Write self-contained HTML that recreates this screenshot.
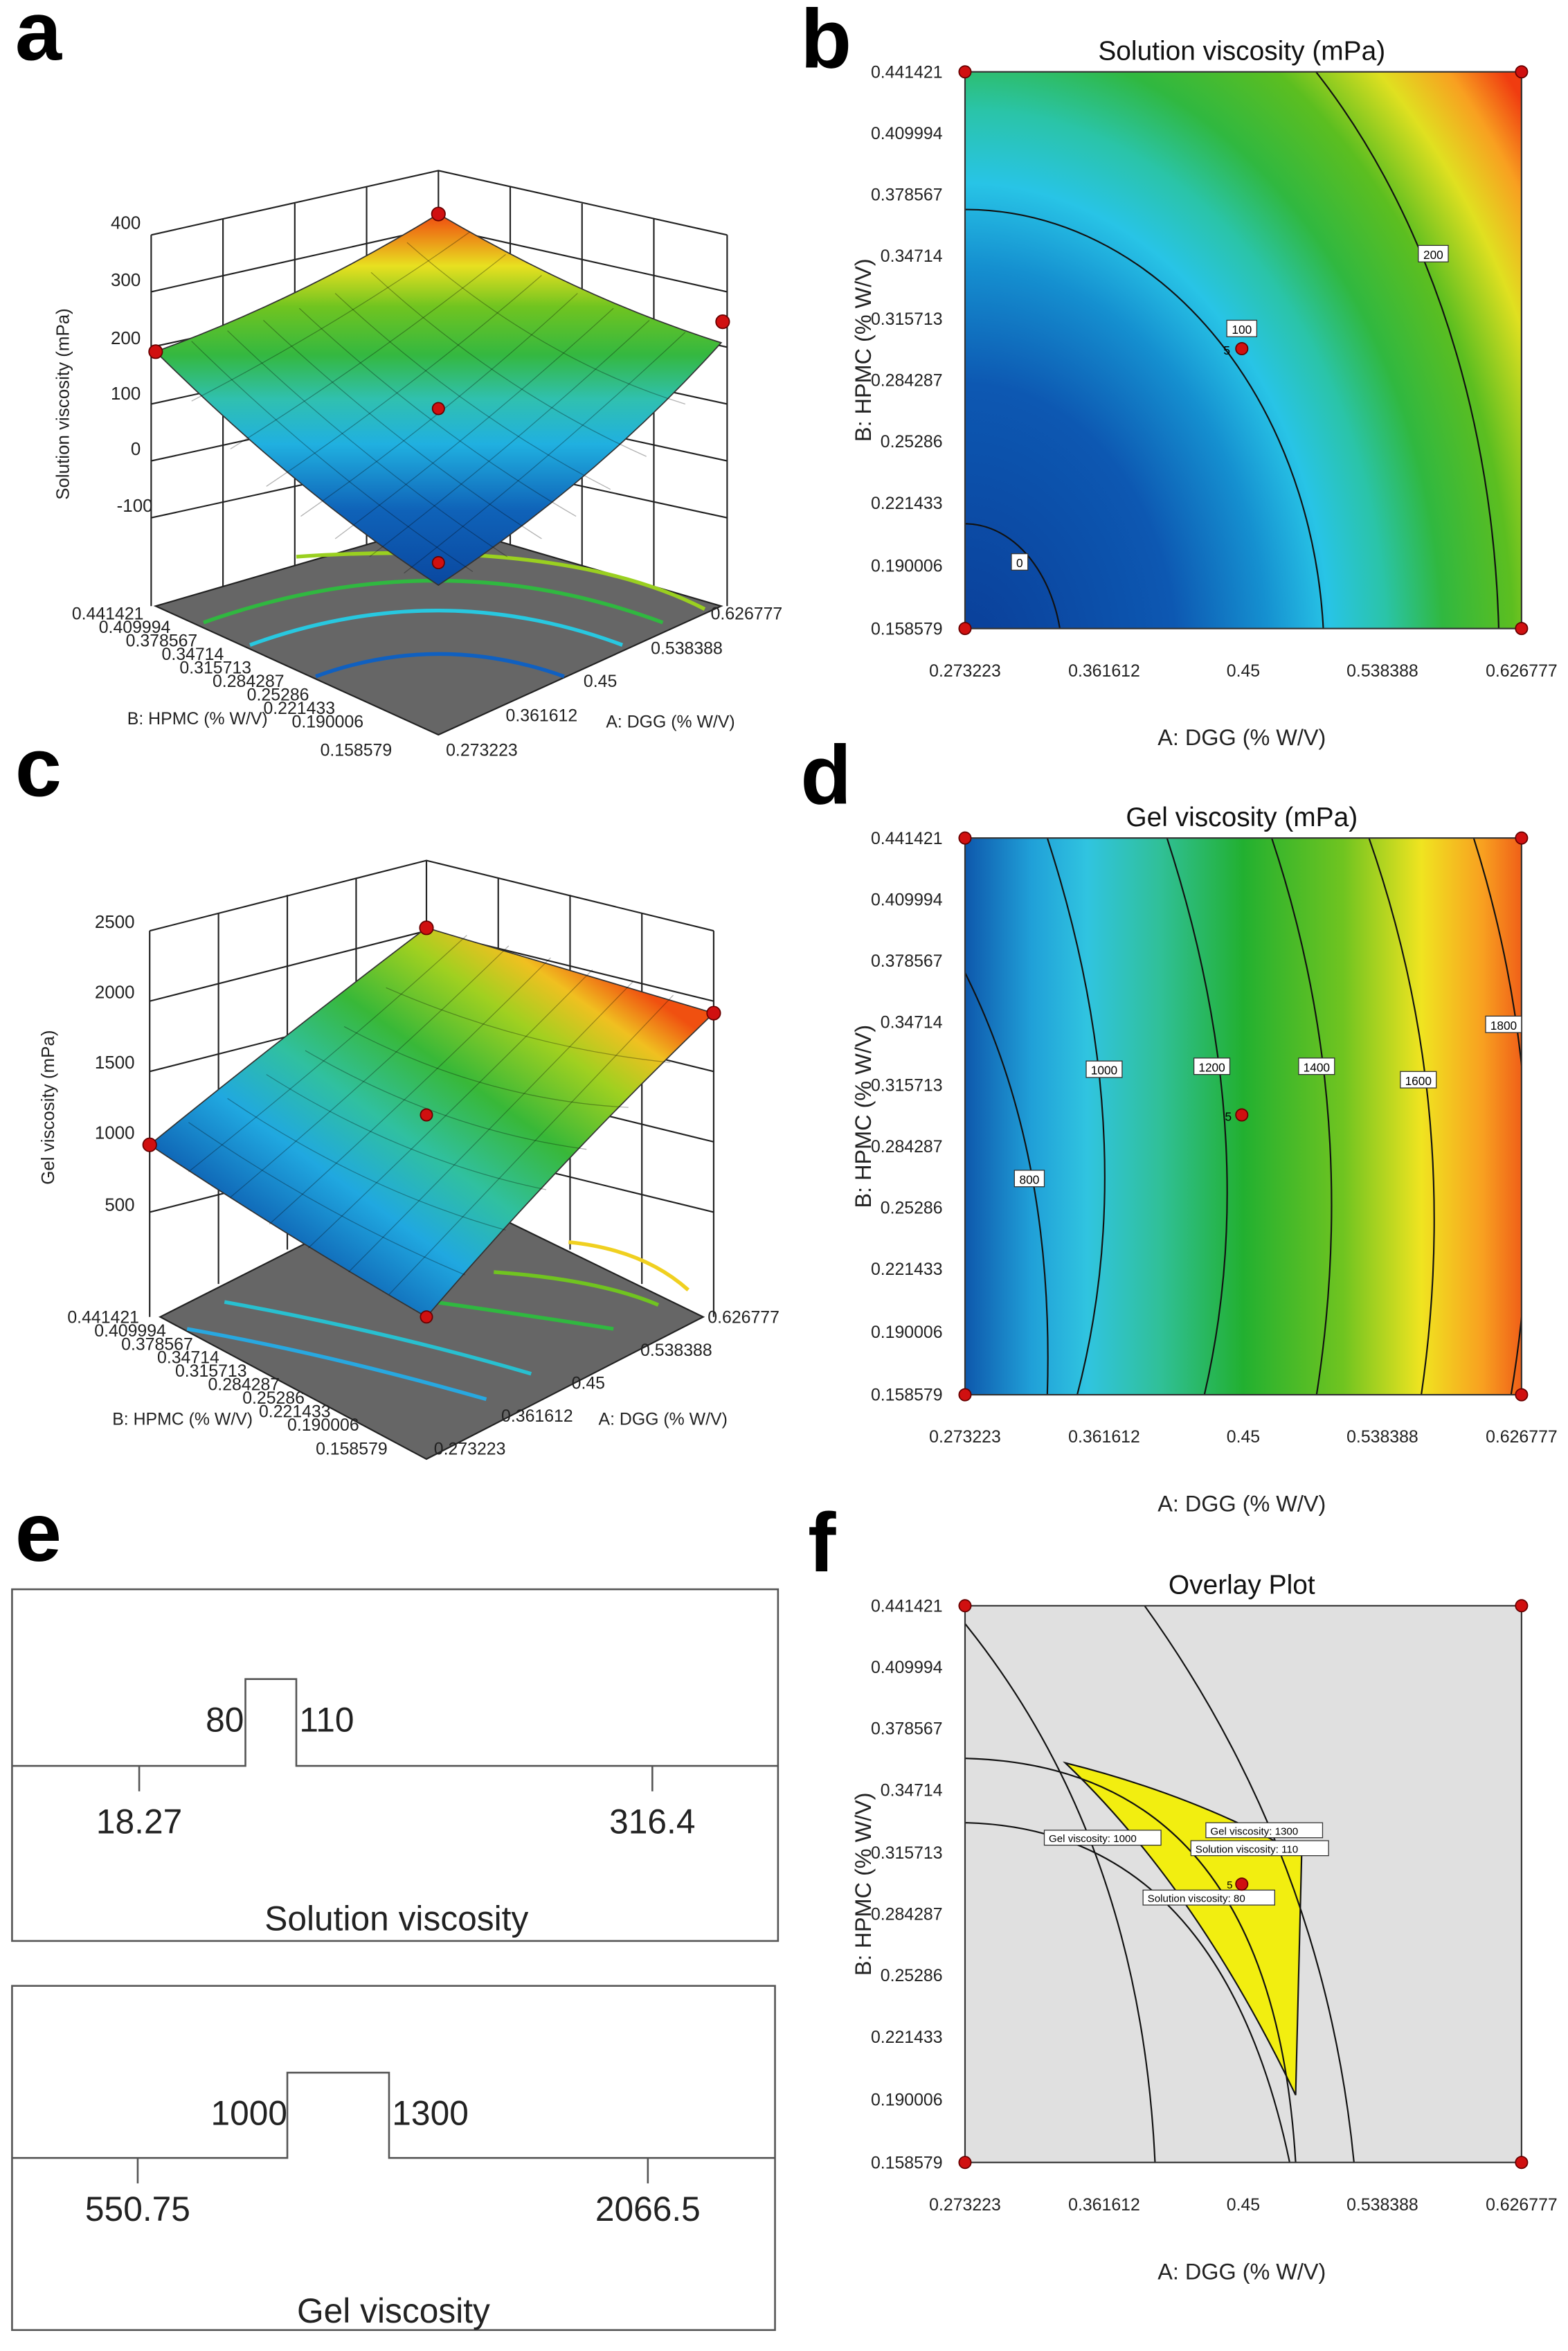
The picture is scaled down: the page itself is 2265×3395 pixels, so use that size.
<!DOCTYPE html>
<html><head><meta charset="utf-8"><style>
html,body{margin:0;padding:0;background:#fff}
svg{display:block}
text{font-family:"Liberation Sans",sans-serif}
</style></head><body>
<svg width="2265" height="3395" viewBox="0 0 1048 1571" xmlns="http://www.w3.org/2000/svg">
<defs>
<linearGradient id="ga" gradientUnits="userSpaceOnUse" x1="293" y1="391" x2="293" y2="143">
<stop offset="0" stop-color="#0a48a0"/><stop offset="0.2" stop-color="#0f62b8"/><stop offset="0.38" stop-color="#20b0e0"/><stop offset="0.5" stop-color="#30c0b0"/><stop offset="0.62" stop-color="#34b840"/><stop offset="0.75" stop-color="#70c420"/><stop offset="0.86" stop-color="#e8e020"/><stop offset="1" stop-color="#f04810"/></linearGradient>
<linearGradient id="gc" gradientUnits="userSpaceOnUse" x1="200" y1="860" x2="370" y2="620">
<stop offset="0" stop-color="#0a50a8"/><stop offset="0.25" stop-color="#20a8e0"/><stop offset="0.42" stop-color="#30c0a0"/><stop offset="0.6" stop-color="#38b838"/><stop offset="0.78" stop-color="#a0d020"/><stop offset="0.9" stop-color="#f0c020"/><stop offset="1" stop-color="#f05010"/></linearGradient>
<radialGradient id="gb" gradientUnits="userSpaceOnUse" cx="645" cy="440" r="470" gradientTransform="translate(645 440) scale(1 1.3) translate(-645 -440)">
<stop offset="0" stop-color="#0a3e98"/><stop offset="0.3" stop-color="#0d58b2"/><stop offset="0.43" stop-color="#1590d0"/><stop offset="0.52" stop-color="#28c4e6"/><stop offset="0.6" stop-color="#2ac4a8"/><stop offset="0.68" stop-color="#30b840"/><stop offset="0.78" stop-color="#5cbe20"/><stop offset="0.87" stop-color="#e0e020"/><stop offset="0.94" stop-color="#f8a020"/><stop offset="1" stop-color="#f03c10"/></radialGradient>
<linearGradient id="gd" gradientUnits="userSpaceOnUse" x1="645" y1="0" x2="1017" y2="0">
<stop offset="0" stop-color="#0e58ac"/><stop offset="0.12" stop-color="#20a0d8"/><stop offset="0.22" stop-color="#30c4e0"/><stop offset="0.35" stop-color="#30c098"/><stop offset="0.5" stop-color="#22b030"/><stop offset="0.68" stop-color="#70c420"/><stop offset="0.82" stop-color="#f0e420"/><stop offset="0.93" stop-color="#f8a020"/><stop offset="1" stop-color="#f06018"/></linearGradient>
<clipPath id="cb"><rect x="645" y="48" width="372" height="372"/></clipPath>
<clipPath id="cd"><rect x="645" y="560" width="372" height="372"/></clipPath>
<clipPath id="cf"><rect x="645" y="1073" width="372" height="372"/></clipPath>
</defs>

<g font-weight="bold" font-size="56" fill="#000">
<text x="10" y="40">a</text><text x="535" y="45">b</text>
<text x="10" y="532">c</text><text x="535" y="537">d</text>
<text x="10" y="1043">e</text><text x="540" y="1050">f</text>
</g>

<!-- PANEL A -->
<g stroke="#222" stroke-width="1" fill="none">
<polyline points="101,157 293,114 486,157"/>
<line x1="101" y1="157" x2="101" y2="405"/><line x1="293" y1="114" x2="293" y2="356"/><line x1="486" y1="157" x2="486" y2="405"/>
<polyline points="101,195 293,152 486,195"/><polyline points="101,232 293,190 486,232"/><polyline points="101,270 293,228 486,270"/><polyline points="101,308 293,266 486,308"/><polyline points="101,346 293,304 486,346"/>
<line x1="149" y1="146" x2="149" y2="395"/><line x1="197" y1="136" x2="197" y2="380"/><line x1="245" y1="125" x2="245" y2="368"/>
<line x1="341" y1="125" x2="341" y2="368"/><line x1="389" y1="136" x2="389" y2="380"/><line x1="437" y1="146" x2="437" y2="395"/>
</g>
<polygon points="104,405 293,491 482,405 293,350" fill="#666" stroke="#222"/>
<g fill="none" stroke-width="2.5">
<path d="M198,372 Q380,360 471,407" stroke="#9ad020"/>
<path d="M136,416 Q293,360 443,416" stroke="#30b840"/>
<path d="M167,431 Q293,385 416,431" stroke="#28c8e0"/>
<path d="M211,452 Q293,422 377,452" stroke="#1060c0"/>
</g>
<path d="M104,235 Q200,330 293,391 Q400,320 482,229 Q390,200 293,143 Q200,200 104,235 Z" fill="url(#ga)" stroke="#333" stroke-width="0.8"/>
<g stroke="#000" stroke-opacity="0.3" stroke-width="0.6" fill="none">
<path d="M128,228 Q222,320 316,382"/><path d="M152,221 Q245,310 339,372"/><path d="M176,214 Q268,300 362,360"/><path d="M200,206 Q290,290 385,345"/><path d="M224,196 Q312,278 408,327"/><path d="M248,182 Q335,262 432,305"/><path d="M272,162 Q360,240 458,270"/>
<path d="M458,222 Q364,310 270,383"/><path d="M434,214 Q341,300 247,372"/><path d="M410,206 Q318,290 224,360"/><path d="M386,196 Q295,280 201,345"/><path d="M362,184 Q272,262 178,325"/><path d="M338,170 Q250,240 154,300"/><path d="M314,155 Q230,215 128,268"/>
</g>
<g fill="#d01010" stroke="#600" stroke-width="0.8">
<circle cx="293" cy="143" r="4.5"/><circle cx="104" cy="235" r="4.5"/><circle cx="483" cy="215" r="4.5"/><circle cx="293" cy="273" r="4"/><circle cx="293" cy="376" r="4"/>
</g>
<g font-size="12" fill="#222" text-anchor="end">
<text x="94" y="153">400</text><text x="94" y="191">300</text><text x="94" y="230">200</text><text x="94" y="267">100</text><text x="94" y="304">0</text><text x="102" y="342">-100</text>
</g>
<text transform="translate(46,270) rotate(-90)" font-size="12" text-anchor="middle" fill="#222">Solution viscosity (mPa)</text>
<g font-size="11.5" fill="#222">
<text x="48" y="414">0.441421</text><text x="66" y="423">0.409994</text><text x="84" y="432">0.378567</text><text x="108" y="441">0.34714</text><text x="120" y="450">0.315713</text><text x="142" y="459">0.284287</text><text x="165" y="468">0.25286</text><text x="176" y="477">0.221433</text><text x="195" y="486">0.190006</text><text x="214" y="505">0.158579</text>
<text x="85" y="484">B: HPMC (% W/V)</text>
<text x="298" y="505">0.273223</text><text x="338" y="482">0.361612</text><text x="390" y="459">0.45</text><text x="435" y="437">0.538388</text><text x="475" y="414">0.626777</text>
<text x="405" y="486">A: DGG (% W/V)</text>
</g>

<!-- PANEL C -->
<g stroke="#222" stroke-width="1" fill="none">
<polyline points="100,622 285,575 477,622"/>
<line x1="100" y1="622" x2="100" y2="880"/><line x1="285" y1="575" x2="285" y2="790"/><line x1="477" y1="622" x2="477" y2="880"/>
<polyline points="100,669 285,622 477,669"/><polyline points="100,716 285,669 477,716"/><polyline points="100,763 285,716 477,763"/><polyline points="100,810 285,763 477,810"/>
<line x1="146" y1="610" x2="146" y2="858"/><line x1="192" y1="598" x2="192" y2="835"/><line x1="238" y1="587" x2="238" y2="812"/>
<line x1="333" y1="587" x2="333" y2="812"/><line x1="381" y1="598" x2="381" y2="835"/><line x1="429" y1="610" x2="429" y2="858"/>
</g>
<polygon points="107,880 285,975 470,880 285,790" fill="#666" stroke="#222"/>
<g fill="none" stroke-width="2.5">
<path d="M125,888 Q220,905 325,935" stroke="#28a8e0"/>
<path d="M150,870 Q260,890 355,918" stroke="#28c0d0"/>
<path d="M290,870 Q360,880 410,888" stroke="#30b840"/>
<path d="M330,850 Q400,855 440,872" stroke="#70c420"/>
<path d="M380,830 Q430,835 460,862" stroke="#f0d020"/>
</g>
<path d="M100,765 Q190,825 285,880 Q375,775 477,677 Q380,648 285,620 Q190,692 100,765 Z" fill="url(#gc)" stroke="#333" stroke-width="0.8"/>
<g stroke="#000" stroke-opacity="0.3" stroke-width="0.6" fill="none">
<path d="M126,750 Q216,812 311,852"/><path d="M152,734 Q242,795 338,822"/><path d="M178,718 Q268,775 365,795"/><path d="M204,702 Q295,755 392,768"/><path d="M230,686 Q322,735 420,740"/><path d="M258,660 Q350,700 448,710"/>
<path d="M450,665 Q355,765 260,865"/><path d="M423,656 Q330,752 233,850"/><path d="M396,648 Q305,740 206,834"/><path d="M368,640 Q280,728 180,818"/><path d="M340,632 Q255,715 154,800"/><path d="M312,625 Q230,700 126,783"/>
</g>
<g fill="#d01010" stroke="#600" stroke-width="0.8">
<circle cx="285" cy="620" r="4.5"/><circle cx="100" cy="765" r="4.5"/><circle cx="477" cy="677" r="4.5"/><circle cx="285" cy="745" r="4"/><circle cx="285" cy="880" r="4"/>
</g>
<g font-size="12" fill="#222" text-anchor="end">
<text x="90" y="620">2500</text><text x="90" y="667">2000</text><text x="90" y="714">1500</text><text x="90" y="761">1000</text><text x="90" y="809">500</text>
</g>
<text transform="translate(36,740) rotate(-90)" font-size="12" text-anchor="middle" fill="#222">Gel viscosity (mPa)</text>
<g font-size="11.5" fill="#222">
<text x="45" y="884">0.441421</text><text x="63" y="893">0.409994</text><text x="81" y="902">0.378567</text><text x="105" y="911">0.34714</text><text x="117" y="920">0.315713</text><text x="139" y="929">0.284287</text><text x="162" y="938">0.25286</text><text x="173" y="947">0.221433</text><text x="192" y="956">0.190006</text><text x="211" y="972">0.158579</text>
<text x="75" y="952">B: HPMC (% W/V)</text>
<text x="290" y="972">0.273223</text><text x="335" y="950">0.361612</text><text x="382" y="928">0.45</text><text x="428" y="906">0.538388</text><text x="473" y="884">0.626777</text>
<text x="400" y="952">A: DGG (% W/V)</text>
</g>

<!-- PANEL B -->
<rect x="645" y="48" width="372" height="372" fill="url(#gb)"/>
<g clip-path="url(#cb)" fill="none" stroke="#111" stroke-width="1">
<ellipse cx="645" cy="440" rx="65" ry="90"/>
<ellipse cx="645" cy="440" rx="240" ry="300"/>
<ellipse cx="645" cy="440" rx="357" ry="520"/>
</g>
<rect x="645" y="48" width="372" height="372" fill="none" stroke="#333"/>
<g font-size="8" fill="#000" text-anchor="middle">
<rect x="676" y="370" width="11" height="11" fill="#fff" stroke="#333" stroke-width="0.6"/><text x="681.5" y="379">0</text>
<rect x="820" y="214" width="20" height="11" fill="#fff" stroke="#333" stroke-width="0.6"/><text x="830" y="223">100</text>
<rect x="948" y="164" width="20" height="11" fill="#fff" stroke="#333" stroke-width="0.6"/><text x="958" y="173">200</text>
<text x="820" y="237">5</text>
</g>
<g fill="#d01010" stroke="#600" stroke-width="0.8">
<circle cx="830" cy="233" r="4"/><circle cx="645" cy="48" r="4"/><circle cx="1017" cy="48" r="4"/><circle cx="645" cy="420" r="4"/><circle cx="1017" cy="420" r="4"/>
</g>
<text x="830" y="40" font-size="18" text-anchor="middle" fill="#111">Solution viscosity (mPa)</text>
<g font-size="11.5" fill="#222" text-anchor="end">
<text x="630" y="52">0.441421</text><text x="630" y="93">0.409994</text><text x="630" y="134">0.378567</text><text x="630" y="175">0.34714</text><text x="630" y="217">0.315713</text><text x="630" y="258">0.284287</text><text x="630" y="299">0.25286</text><text x="630" y="340">0.221433</text><text x="630" y="382">0.190006</text><text x="630" y="424">0.158579</text>
</g>
<g font-size="11.5" fill="#222" text-anchor="middle">
<text x="645" y="452">0.273223</text><text x="738" y="452">0.361612</text><text x="831" y="452">0.45</text><text x="924" y="452">0.538388</text><text x="1017" y="452">0.626777</text>
</g>
<text x="830" y="498" font-size="15" text-anchor="middle" fill="#222">A: DGG (% W/V)</text>
<text transform="translate(582,234) rotate(-90)" font-size="15" text-anchor="middle" fill="#222">B: HPMC (% W/V)</text>

<!-- PANEL D -->
<rect x="645" y="560" width="372" height="372" fill="url(#gd)"/>
<g clip-path="url(#cd)" fill="none" stroke="#111" stroke-width="1">
<path d="M645,650 Q705,770 700,932"/>
<path d="M700,560 Q765,760 720,932"/>
<path d="M780,560 Q845,760 805,932"/>
<path d="M850,560 Q910,740 880,932"/>
<path d="M915,560 Q978,740 950,932"/>
<path d="M985,560 Q1042,740 1010,932"/>
</g>
<rect x="645" y="560" width="372" height="372" fill="none" stroke="#333"/>
<g font-size="8" fill="#000" text-anchor="middle">
<rect x="678" y="782" width="20" height="11" fill="#fff" stroke="#333" stroke-width="0.6"/><text x="688" y="791">800</text>
<rect x="726" y="709" width="24" height="11" fill="#fff" stroke="#333" stroke-width="0.6"/><text x="738" y="718">1000</text>
<rect x="798" y="707" width="24" height="11" fill="#fff" stroke="#333" stroke-width="0.6"/><text x="810" y="716">1200</text>
<rect x="868" y="707" width="24" height="11" fill="#fff" stroke="#333" stroke-width="0.6"/><text x="880" y="716">1400</text>
<rect x="936" y="716" width="24" height="11" fill="#fff" stroke="#333" stroke-width="0.6"/><text x="948" y="725">1600</text>
<rect x="993" y="679" width="24" height="11" fill="#fff" stroke="#333" stroke-width="0.6"/><text x="1005" y="688">1800</text>
<text x="821" y="749">5</text>
</g>
<g fill="#d01010" stroke="#600" stroke-width="0.8">
<circle cx="830" cy="745" r="4"/><circle cx="645" cy="560" r="4"/><circle cx="1017" cy="560" r="4"/><circle cx="645" cy="932" r="4"/><circle cx="1017" cy="932" r="4"/>
</g>
<text x="830" y="552" font-size="18" text-anchor="middle" fill="#111">Gel viscosity (mPa)</text>
<g font-size="11.5" fill="#222" text-anchor="end">
<text x="630" y="564">0.441421</text><text x="630" y="605">0.409994</text><text x="630" y="646">0.378567</text><text x="630" y="687">0.34714</text><text x="630" y="729">0.315713</text><text x="630" y="770">0.284287</text><text x="630" y="811">0.25286</text><text x="630" y="852">0.221433</text><text x="630" y="894">0.190006</text><text x="630" y="936">0.158579</text>
</g>
<g font-size="11.5" fill="#222" text-anchor="middle">
<text x="645" y="964">0.273223</text><text x="738" y="964">0.361612</text><text x="831" y="964">0.45</text><text x="924" y="964">0.538388</text><text x="1017" y="964">0.626777</text>
</g>
<text x="830" y="1010" font-size="15" text-anchor="middle" fill="#222">A: DGG (% W/V)</text>
<text transform="translate(582,746) rotate(-90)" font-size="15" text-anchor="middle" fill="#222">B: HPMC (% W/V)</text>

<!-- PANEL F -->
<rect x="645" y="1073" width="372" height="372" fill="#e0e0e0"/>
<path d="M712,1178 Q800,1200 870,1240 L866,1400 Q800,1262 712,1178 Z" fill="#f2ee10" stroke="#111" stroke-width="1"/>
<g clip-path="url(#cf)" fill="none" stroke="#111" stroke-width="1">
<path d="M645,1085 Q762,1230 772,1445"/>
<path d="M765,1073 Q885,1240 905,1445"/>
<path d="M645,1175 Q850,1180 866,1445"/>
<path d="M645,1218 Q815,1222 862,1445"/>
</g>
<rect x="645" y="1073" width="372" height="372" fill="none" stroke="#333"/>
<g font-size="7" fill="#000">
<rect x="698" y="1223" width="78" height="10" fill="#fff" stroke="#333" stroke-width="0.6"/><text x="701" y="1231">Gel viscosity: 1000</text>
<rect x="806" y="1218" width="78" height="10" fill="#fff" stroke="#333" stroke-width="0.6"/><text x="809" y="1226">Gel viscosity: 1300</text>
<rect x="796" y="1230" width="92" height="10" fill="#fff" stroke="#333" stroke-width="0.6"/><text x="799" y="1238">Solution viscosity: 110</text>
<rect x="764" y="1263" width="88" height="10" fill="#fff" stroke="#333" stroke-width="0.6"/><text x="767" y="1271">Solution viscosity: 80</text>
<text x="820" y="1262">5</text>
</g>
<g fill="#d01010" stroke="#600" stroke-width="0.8">
<circle cx="830" cy="1259" r="4"/><circle cx="645" cy="1073" r="4"/><circle cx="1017" cy="1073" r="4"/><circle cx="645" cy="1445" r="4"/><circle cx="1017" cy="1445" r="4"/>
</g>
<text x="830" y="1065" font-size="18" text-anchor="middle" fill="#111">Overlay Plot</text>
<g font-size="11.5" fill="#222" text-anchor="end">
<text x="630" y="1077">0.441421</text><text x="630" y="1118">0.409994</text><text x="630" y="1159">0.378567</text><text x="630" y="1200">0.34714</text><text x="630" y="1242">0.315713</text><text x="630" y="1283">0.284287</text><text x="630" y="1324">0.25286</text><text x="630" y="1365">0.221433</text><text x="630" y="1407">0.190006</text><text x="630" y="1449">0.158579</text>
</g>
<g font-size="11.5" fill="#222" text-anchor="middle">
<text x="645" y="1477">0.273223</text><text x="738" y="1477">0.361612</text><text x="831" y="1477">0.45</text><text x="924" y="1477">0.538388</text><text x="1017" y="1477">0.626777</text>
</g>
<text x="830" y="1523" font-size="15" text-anchor="middle" fill="#222">A: DGG (% W/V)</text>
<text transform="translate(582,1259) rotate(-90)" font-size="15" text-anchor="middle" fill="#222">B: HPMC (% W/V)</text>

<!-- PANEL E -->
<g fill="none" stroke="#555" stroke-width="1.2">
<rect x="8" y="1062" width="512" height="235"/>
<polyline points="8,1180 164,1180 164,1122 198,1122 198,1180 520,1180"/>
<line x1="93" y1="1180" x2="93" y2="1197"/><line x1="436" y1="1180" x2="436" y2="1197"/>
<rect x="8" y="1327" width="510" height="230"/>
<polyline points="8,1442 192,1442 192,1385 260,1385 260,1442 518,1442"/>
<line x1="92" y1="1442" x2="92" y2="1459"/><line x1="433" y1="1442" x2="433" y2="1459"/>
</g>
<g font-size="23" fill="#222">
<text x="163" y="1157" text-anchor="end">80</text><text x="200" y="1157">110</text>
<text x="93" y="1225" text-anchor="middle">18.27</text><text x="436" y="1225" text-anchor="middle">316.4</text>
<text x="265" y="1290" text-anchor="middle">Solution viscosity</text>
<text x="192" y="1420" text-anchor="end">1000</text><text x="262" y="1420">1300</text>
<text x="92" y="1484" text-anchor="middle">550.75</text><text x="433" y="1484" text-anchor="middle">2066.5</text>
<text x="263" y="1552" text-anchor="middle">Gel viscosity</text>
</g>
</svg>
</body></html>
